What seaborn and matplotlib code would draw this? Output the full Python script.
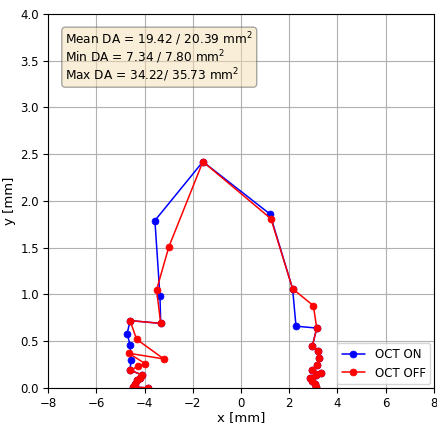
import matplotlib
matplotlib.use("Agg")
import matplotlib.pyplot as plt
import seaborn as sns
import pandas as pd

# OCT ON contour (blue)
on_x = [-3.85, -4.48, -4.40, -4.30, -4.20, -4.12, -4.60, -4.56, -4.60, -4.72, -4.60, -3.33,
        -3.36, -3.57, -1.58, 1.20, 2.14, 2.28, 3.14, 2.96, 3.21, 3.24, 3.17, 2.93, 3.32,
        3.10, 2.86, 2.95, 3.05, 3.12]
on_y = [0.00, 0.01, 0.04, 0.08, 0.11, 0.14, 0.19, 0.30, 0.46, 0.58, 0.72, 0.69,
        0.98, 1.79, 2.42, 1.86, 1.06, 0.66, 0.64, 0.45, 0.39, 0.32, 0.25, 0.19, 0.16,
        0.14, 0.11, 0.07, 0.04, 0.01]

# OCT OFF contour (red)
off_x = [-3.85, -4.48, -4.40, -4.30, -4.20, -4.12, -4.60, -4.26, -3.98, -4.65, -3.20, -4.33,
         -4.60, -3.33, -3.50, -2.99, -1.58, 1.24, 2.14, 3.00, 3.14, 2.96, 3.21, 3.24, 3.17,
         2.93, 3.32, 3.10, 2.86, 2.95, 3.05, 3.12]
off_y = [0.00, 0.01, 0.04, 0.08, 0.11, 0.14, 0.19, 0.23, 0.26, 0.37, 0.31, 0.52,
         0.72, 0.69, 1.05, 1.51, 2.42, 1.81, 1.06, 0.88, 0.64, 0.45, 0.39, 0.32, 0.25,
         0.19, 0.16, 0.14, 0.11, 0.07, 0.04, 0.01]

labels = ["OCT ON", "OCT OFF"]
info_lines = ["Mean DA = 19.42 / 20.39 mm$^2$",
              "Min DA = 7.34 / 7.80 mm$^2$",
              "Max DA = 34.22/ 35.73 mm$^2$"]

df_on = pd.DataFrame({"x": on_x, "y": on_y})
df_off = pd.DataFrame({"x": off_x, "y": off_y})

sns.set_style("ticks")
plt.rcParams["font.family"] = ["DejaVu Sans"]
plt.rcParams.update({"text.color": "black", "axes.labelcolor": "black",
                     "xtick.color": "black", "ytick.color": "black"})

fig = plt.figure(figsize=(4.37, 4.23), dpi=100)
ax = fig.add_axes([0.110, 0.083, 0.883, 0.884])

sns.lineplot(data=df_on, x="x", y="y", sort=False, estimator=None, ax=ax,
             color="blue", marker="o", markersize=5, markeredgecolor="blue",
             markeredgewidth=0.5, linewidth=1.1, label=labels[0])
sns.lineplot(data=df_off, x="x", y="y", sort=False, estimator=None, ax=ax,
             color="red", marker="o", markersize=5, markeredgecolor="red",
             markeredgewidth=0.5, linewidth=1.1, label=labels[1])

ax.set_xlim(-8, 8)
ax.set_ylim(0, 4)
ax.set_xticks(range(-8, 9, 2))
ax.set_yticks([i * 0.5 for i in range(9)])
ax.set_yticklabels([f"{i * 0.5:.1f}" for i in range(9)])
ax.grid(True, color="#b0b0b0", linewidth=0.8)
ax.set_axisbelow(True)
for s in ax.spines.values():
    s.set_color("black")
    s.set_linewidth(0.8)
ax.tick_params(labelsize=8.5, length=3.5, width=0.8, color="black",
               labelcolor="black", pad=3)
ax.set_xlabel("x [mm]", fontsize=9.5, labelpad=1, color="black")
ax.set_ylabel("y [mm]", fontsize=9.5, labelpad=3, color="black")

ax.text(0.045, 0.955, "\n".join(info_lines), transform=ax.transAxes,
        fontsize=8.7, va="top", ha="left", linespacing=1.0, color="black",
        bbox=dict(boxstyle="round", facecolor="wheat", edgecolor="#555555",
                  alpha=0.5, linewidth=1.0))

leg = ax.legend(loc="lower right", fontsize=8.5, framealpha=0.8, borderaxespad=0.3)
leg.get_frame().set_edgecolor("#cccccc")
for t in leg.get_texts():
    t.set_color("black")

fig.savefig("out.png", dpi=100)
